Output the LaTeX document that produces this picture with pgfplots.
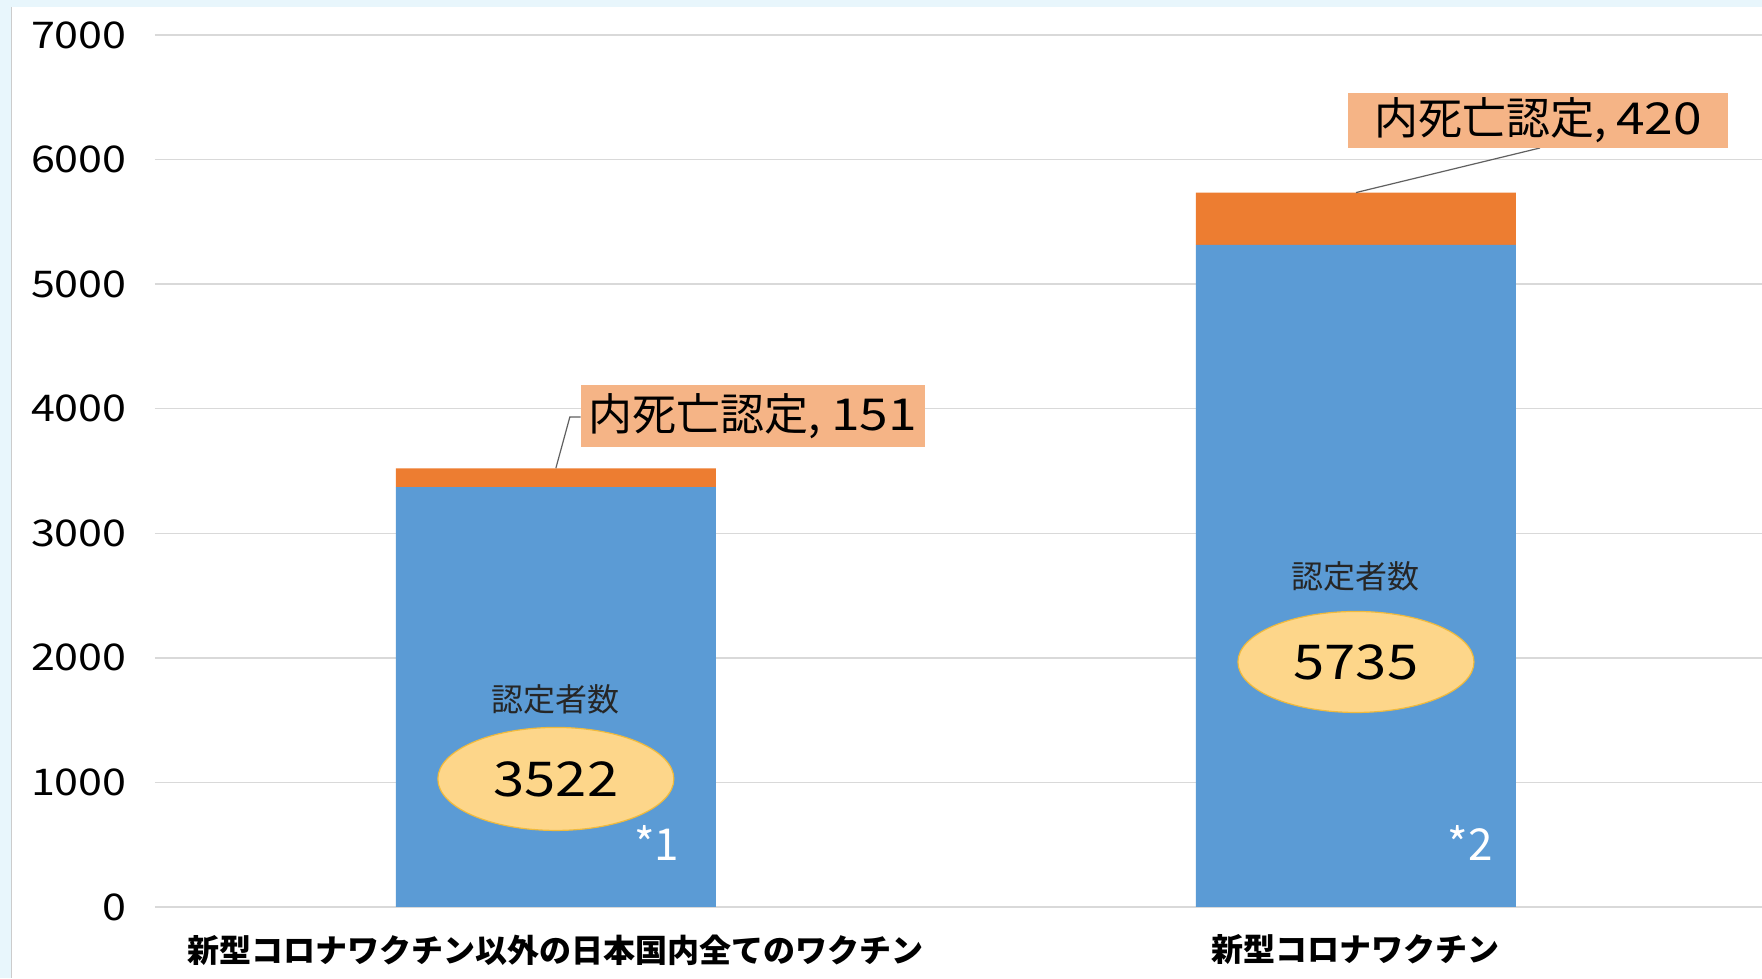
\documentclass[border=0pt]{standalone}
\usepackage{fontspec}
\setmainfont{Noto Sans CJK JP}
\usepackage{graphicx}
\usepackage{pgfplots}
\pgfplotsset{compat=1.18}
\usetikzlibrary{shapes.geometric}
\definecolor{bgblue}{HTML}{E8F6FC}
\definecolor{barblue}{HTML}{5B9BD5}
\definecolor{barorange}{HTML}{ED7D31}
\definecolor{boxorange}{HTML}{F5B486}
\definecolor{ellfill}{HTML}{FDD68A}
\definecolor{elldraw}{HTML}{F0BA3C}
\definecolor{gridgray}{HTML}{D9D9D9}
\newcommand{\wide}[1]{\scalebox{1.17}[1]{#1}}
\begin{document}
\begin{tikzpicture}[x=1pt,y=1pt]
\fill[bgblue] (-77.5,-35.5) rectangle (803.5,453.5);
\fill[white] (-71.5,-35.5) rectangle (803.5,450);
\draw[gray!40,line width=0.5pt] (-71.5,-35.5) -- (-71.5,450);
\useasboundingbox (-77.5,-35.5) rectangle (803.5,453.5);
\begin{axis}[
  at={(0,0)}, anchor=south west,
  width=803.5pt, height=436pt, scale only axis,
  ybar stacked, bar width=0.4,
  xmin=-0.501, xmax=1.5075,
  ymin=0, ymax=7000,
  ytick={0,1000,...,7000},
  yticklabel={\wide{\pgfmathprintnumber{\tick}}},
  xtick={0,1},
  xticklabels={新型コロナワクチン以外の日本国内全てのワクチン, 新型コロナワクチン},
  xticklabel style={font=\fontsize{16}{18}\selectfont\bfseries, anchor=center, yshift=-21.5pt, inner sep=0pt},
  yticklabel style={font=\fontsize{18.4}{20}\selectfont, anchor=east, inner sep=0pt, xshift=-14pt},
  /pgf/number format/assume math mode=true,
  /pgf/number format/1000 sep={},
  axis line style={draw=none},
  major tick length=0pt,
  ymajorgrids,
  grid style={gridgray, line width=0.75pt},
  clip=false,
]
\addplot[fill=barblue, draw=none] coordinates {(0,3371) (1,5315)};
\addplot[fill=barorange, draw=none] coordinates {(0,151) (1,420)};
\coordinate (t1) at (axis cs:0,3522);
\coordinate (k1) at (axis cs:0.0175,3934);
\coordinate (e1) at (axis cs:0.031,3934);
\coordinate (t2) at (axis cs:1,5735);
\coordinate (e2) at (axis cs:1.23,6093);
\coordinate (b1) at (axis cs:0.24625,3941);
\coordinate (b2) at (axis cs:1.2275,6314);
\coordinate (n1) at (axis cs:0,1670);
\coordinate (n2) at (axis cs:1,2657);
\coordinate (o1) at (axis cs:0,1028);
\coordinate (o2) at (axis cs:1,1967);
\coordinate (s1) at (axis cs:0.126,514);
\coordinate (s2) at (axis cs:1.1425,514);
\end{axis}
% leader lines
\draw[gray!75!black, line width=0.6pt] (t1) -- (k1) -- (e1);
\draw[gray!75!black, line width=0.6pt] (t2) -- (e2);
% data label boxes
\node[fill=boxorange, minimum width=172pt, minimum height=31pt, inner sep=0pt, font=\fontsize{22}{24}\selectfont] at (b1) {内死亡認定, \wide{151}};
\node[fill=boxorange, minimum width=190pt, minimum height=27.5pt, inner sep=0pt, font=\fontsize{22}{24}\selectfont] at (b2) {内死亡認定, \wide{420}};
% count labels
\node[font=\fontsize{16}{18}\selectfont, text=black!85] at (n1) {認定者数};
\node[font=\fontsize{16}{18}\selectfont, text=black!85] at (n2) {認定者数};
\node[ellipse, fill=ellfill, draw=elldraw, line width=0.6pt, minimum width=118pt, minimum height=51.5pt, inner sep=0pt, font=\fontsize{24}{26}\selectfont] at (o1) {\wide{3522}};
\node[ellipse, fill=ellfill, draw=elldraw, line width=0.6pt, minimum width=118pt, minimum height=50.5pt, inner sep=0pt, font=\fontsize{24}{26}\selectfont] at (o2) {\wide{5735}};
\node[text=white, font=\fontsize{22}{24}\selectfont] at (s1) {*1};
\node[text=white, font=\fontsize{22}{24}\selectfont] at (s2) {*2};
\end{tikzpicture}
\end{document}
